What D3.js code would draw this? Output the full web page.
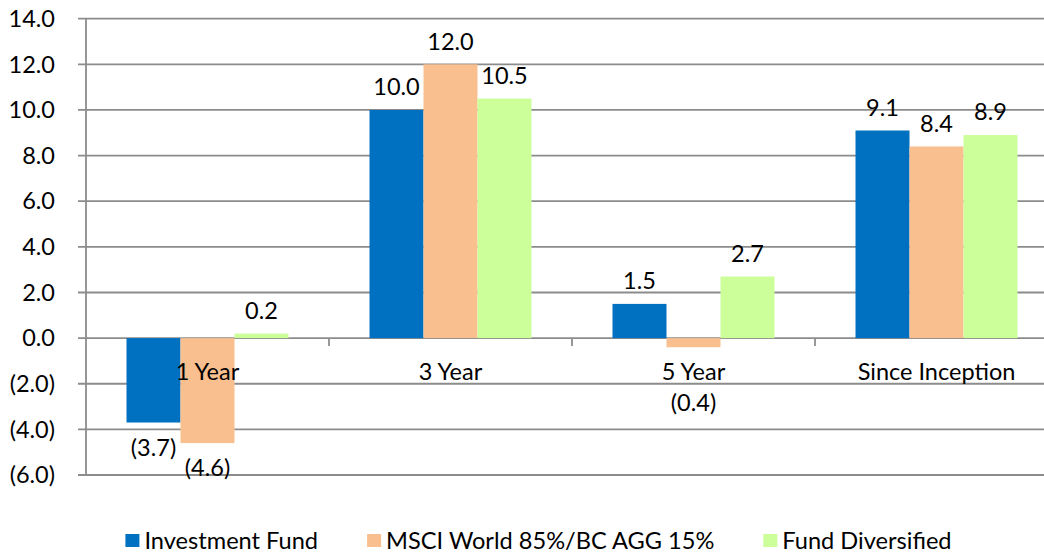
<!DOCTYPE html>
<html>
<head>
<meta charset="utf-8">
<script src="https://cdn.jsdelivr.net/npm/d3@7"></script>
<style>
  html, body { margin: 0; padding: 0; background: #fff; }
  svg { display: block; font-family: Lato, "Liberation Sans", sans-serif; }
</style>
</head>
<body>
<svg id="chart" width="1044" height="556"></svg>
<script>
// data
const categories = ['1 Year', '3 Year', '5 Year', 'Since Inception'];
const seriesNames = ['Investment Fund', 'MSCI World 85%/BC AGG 15%', 'Fund Diversified'];
const investmentFund = [-3.7, 10.0, 1.5, 9.1];
const msciWorld = [-4.6, 12.0, -0.4, 8.4];
const fundDiversified = [0.2, 10.5, 2.7, 8.9];
const yTicks = [-6, -4, -2, 0, 2, 4, 6, 8, 10, 12, 14];

const COLORS = ['#0070c0', '#f9bf8f', '#ccff99'];
const GRID = '#8c8c8c';
const FONT = 23.5;

const seriesValues = [investmentFund, msciWorld, fundDiversified];

const svg = d3.select('#chart');
const plot = { left: 86, right: 1058, top: 18.7, bottom: 475 };

const fmt = v => (v < 0 ? `(${d3.format('.1f')(-v)})` : d3.format('.1f')(v));

const y = d3.scaleLinear()
  .domain([-6, 14])
  .range([plot.bottom, plot.top]);

const x0 = d3.scaleBand()
  .domain(categories)
  .range([plot.left, plot.right])
  .padding(0);

const x1 = d3.scaleBand()
  .domain(seriesNames)
  .range([0, x0.bandwidth()])
  .paddingInner(0)
  .paddingOuter(0.75);

// gridlines + y labels
const yAxis = svg.append('g').attr('class', 'yaxis');
yAxis.selectAll('line')
  .data(yTicks)
  .enter().append('line')
  .attr('x1', plot.left - 8)
  .attr('x2', plot.right)
  .attr('y1', d => y(d))
  .attr('y2', d => y(d))
  .attr('stroke', GRID)
  .attr('stroke-width', 1.8);

yAxis.selectAll('text')
  .data(yTicks)
  .enter().append('text')
  .attr('x', 55)
  .attr('y', d => y(d))
  .attr('dy', '0.35em')
  .attr('text-anchor', 'end')
  .attr('font-size', FONT)
  .attr('fill', '#000')
  .text(fmt);

svg.append('line')
  .attr('x1', plot.left).attr('x2', plot.left)
  .attr('y1', plot.top).attr('y2', plot.bottom)
  .attr('stroke', GRID)
  .attr('stroke-width', 1.8);

// bars
const rows = categories.map((c, i) => ({
  category: c,
  values: seriesNames.map((s, j) => ({ series: s, j, value: seriesValues[j][i] }))
}));

const groups = svg.append('g').attr('class', 'bars')
  .selectAll('g')
  .data(rows)
  .enter().append('g')
  .attr('transform', d => `translate(${x0(d.category)},0)`);

groups.selectAll('rect')
  .data(d => d.values)
  .enter().append('rect')
  .attr('x', d => x1(d.series))
  .attr('y', d => y(Math.max(0, d.value)))
  .attr('width', x1.bandwidth())
  .attr('height', d => Math.abs(y(d.value) - y(0)))
  .attr('fill', d => COLORS[d.j]);

// category ticks along zero line
svg.append('g').selectAll('line')
  .data(categories)
  .enter().append('line')
  .attr('x1', d => x0(d) + x0.bandwidth())
  .attr('x2', d => x0(d) + x0.bandwidth())
  .attr('y1', y(0))
  .attr('y2', y(0) + 8)
  .attr('stroke', GRID)
  .attr('stroke-width', 1.8);

// category labels
const catBaseline = y(0) + 42;
svg.append('g').selectAll('text')
  .data(categories)
  .enter().append('text')
  .attr('x', d => x0(d) + x0.bandwidth() / 2)
  .attr('y', catBaseline)
  .attr('text-anchor', 'middle')
  .attr('font-size', FONT)
  .text(d => d);

// value labels
groups.selectAll('text')
  .data(d => d.values)
  .enter().append('text')
  .attr('x', d => x1(d.series) + x1.bandwidth() / 2)
  .attr('y', d => {
    if (d.value >= 0) return y(d.value) - 23;
    const c = y(d.value) + 25;
    // keep clear of the category label
    return (c > catBaseline - 26 && c < catBaseline + 8) ? catBaseline + 23 : c;
  })
  .attr('dy', '0.35em')
  .attr('text-anchor', 'middle')
  .attr('font-size', FONT)
  .text(d => fmt(d.value));

// legend
const legend = svg.append('g').attr('class', 'legend');
const items = legend.selectAll('g')
  .data(seriesNames)
  .enter().append('g');
items.append('rect')
  .attr('width', 14)
  .attr('height', 13)
  .attr('y', -7)
  .attr('fill', (d, i) => COLORS[i]);
items.append('text')
  .attr('x', 19)
  .attr('dy', '0.35em')
  .attr('font-size', 23.6)
  .text(d => d);

const widths = [];
items.each(function () {
  widths.push(19 + this.querySelector('text').getComputedTextLength());
});
const total = d3.sum(widths) + 49 * (widths.length - 1);
let cx = 538.5 - total / 2;
items.attr('transform', (d, i) => {
  const t = `translate(${cx},541)`;
  cx += widths[i] + 49;
  return t;
});
</script>
</body>
</html>
